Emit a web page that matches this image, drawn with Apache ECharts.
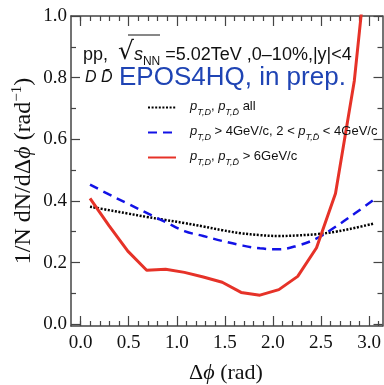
<!DOCTYPE html>
<html><head><meta charset="utf-8">
<script src="https://cdn.jsdelivr.net/npm/echarts@6/dist/echarts.min.js"></script>
<style>html,body{margin:0;padding:0;background:#fff}#c{width:384px;height:385px}</style>
</head><body><div id="c"></div>
<script>
// Δφ bin centres (π/16 bins)
const dphi = [0.098,0.295,0.491,0.687,0.884,1.080,1.276,1.473,1.669,1.865,2.062,2.258,2.454,2.651,2.847,3.043];
// pT,D , pT,Dbar all
const allPt = [0.381,0.370,0.359,0.348,0.338,0.328,0.317,0.305,0.295,0.289,0.286,0.288,0.292,0.300,0.312,0.326];
// pT,D > 4 GeV/c, 2 < pT,Dbar < 4 GeV/c
const midPt = [0.453,0.421,0.391,0.361,0.331,0.302,0.286,0.270,0.256,0.246,0.243,0.255,0.278,0.316,0.358,0.402];
// pT,D , pT,Dbar > 6 GeV/c
const highPt = [0.408,0.320,0.237,0.175,0.178,0.168,0.153,0.136,0.103,0.094,0.112,0.155,0.248,0.424,0.790,1.380];
const xTicks = [0,0.5,1.0,1.5,2.0,2.5,3.0];
const yTicks = [0,0.2,0.4,0.6,0.8,1.0];
const xMinorTicks = [0,0.1,0.2,0.3,0.4,0.6,0.7,0.8,0.9,1.1,1.2,1.3,1.4,1.6,1.7,1.8,1.9,2.1,2.2,2.3,2.4,2.6,2.7,2.8,2.9,3.1];
const yMinorTicks = [0.1,0.3,0.5,0.7,0.9];

const pair = (xs, ys) => xs.map((x, i) => [x, ys[i]]);
const AX = '#444';
const XMIN = -0.1, XMAX = 3.14, YMIN = -0.006, YMAX = 1.0;

function xAx(pos, major, labels) {
  return {
    type: 'value', min: XMIN, max: XMAX, position: pos,
    axisLine: { show: major, onZero: false, lineStyle: { color: AX, width: 1.5 } },
    axisTick: { show: true, inside: true, length: major ? 10 : 5, customValues: major ? xTicks : xMinorTicks, lineStyle: { color: AX, width: 1.2 } },
    axisLabel: { show: labels, customValues: xTicks, formatter: v => v.toFixed(1), fontFamily: 'Liberation Serif', fontSize: 19, color: '#111', margin: 8 },
    splitLine: { show: false }
  };
}
function yAx(pos, major, labels) {
  return {
    type: 'value', min: YMIN, max: YMAX, position: pos,
    axisLine: { show: major, onZero: false, lineStyle: { color: AX, width: 1.5 } },
    axisTick: { show: true, inside: true, length: major ? 9 : 5, customValues: major ? yTicks : yMinorTicks, lineStyle: { color: AX, width: 1.2 } },
    axisLabel: { show: labels, customValues: yTicks, formatter: v => v.toFixed(1), fontFamily: 'Liberation Serif', fontSize: 19, color: '#111', margin: 4 },
    splitLine: { show: false }
  };
}

const legRich = {
  n: { fontSize: 13, fontFamily: 'Liberation Sans', color: '#111', lineHeight: 15, verticalAlign: 'top' },
  p: { fontSize: 13, fontFamily: 'Liberation Sans', fontStyle: 'italic', color: '#111', lineHeight: 15, verticalAlign: 'top' },
  s: { fontSize: 9, fontFamily: 'Liberation Sans', fontStyle: 'italic', color: '#111', lineHeight: 9, padding: [8, 0, 0, 0], verticalAlign: 'top' }
};
const legNames = {
  all: '{p|p}{s|T,D}{n|, }{p|p}{s|T,D\u0304}{n| all}',
  mid: '{p|p}{s|T,D}{n| > 4GeV/c, 2 < }{p|p}{s|T,D\u0304}{n| < 4GeV/c}',
  high: '{p|p}{s|T,D}{n|, }{p|p}{s|T,D\u0304}{n| > 6GeV/c}'
};

const chart = echarts.init(document.getElementById('c'), null, { renderer: 'canvas' });
chart.setOption({
  animation: false,
  backgroundColor: '#fff',
  grid: { left: 71, right: 1.5, top: 16, bottom: 59 },
  xAxis: [xAx('bottom', true, true), xAx('bottom', false, false), xAx('top', true, false), xAx('top', false, false)],
  yAxis: [yAx('left', true, true), yAx('left', false, false), yAx('right', true, false), yAx('right', false, false)],
  legend: {
    orient: 'vertical', left: 142, top: 95, itemWidth: 28, itemHeight: 12, itemGap: 8,
    data: ['all', 'mid', 'high'],
    itemStyle: { opacity: 0 },
    formatter: name => legNames[name],
    textStyle: { rich: legRich, padding: [0, 0, 0, 9] }
  },
  series: [
    { name: 'all', type: 'line', data: pair(dphi, allPt), smooth: 0.4, symbol: 'none', clip: true,
      lineStyle: { color: '#000', width: 2.5, type: [2, 1.6] }, itemStyle: { color: '#000' } },
    { name: 'mid', type: 'line', data: pair(dphi, midPt), smooth: 0.4, symbol: 'none', clip: true,
      lineStyle: { color: '#1212e6', width: 2.5, type: [9, 6] }, itemStyle: { color: '#1212e6' } },
    { name: 'high', type: 'line', data: pair(dphi, highPt), smooth: false, symbol: 'none', clip: true,
      lineStyle: { color: '#e63228', width: 3 }, itemStyle: { color: '#e63228' } }
  ],
  graphic: [
    { type: 'text', left: 83, top: 40, style: {
        text: '{n|pp,  }{r|\u221A}{i|s}{s|NN}{n| =5.02TeV ,0\u201310%,|y|<4}',
        rich: {
          n: { fontSize: 18, fontFamily: 'Liberation Sans', fill: '#111', lineHeight: 20, padding: [6, 0, 0, 0], verticalAlign: 'top' },
          r: { fontSize: 25, fontFamily: 'DejaVu Sans', fill: '#111', lineHeight: 28, verticalAlign: 'top' },
          i: { fontSize: 18, fontFamily: 'Liberation Sans', fontStyle: 'italic', fill: '#111', lineHeight: 20, padding: [6, 0, 0, 0], verticalAlign: 'top' },
          s: { fontSize: 12, fontFamily: 'Liberation Sans', fill: '#111', lineHeight: 12, padding: [16, 0, 0, 0], verticalAlign: 'top' }
        } } },
    { type: 'line', shape: { x1: 128, y1: 35, x2: 160, y2: 35 }, style: { stroke: '#111', lineWidth: 1 } },
    { type: 'text', left: 85, top: 70, style: {
        text: 'D D\u0304', font: 'italic 16px "Liberation Sans"', fill: '#111' } },
    { type: 'text', left: 119, top: 65, style: {
        text: 'EPOS4HQ, in prep.', font: '26px "Liberation Sans"', fill: '#1f44b4' } },
    { type: 'text', x: 23, y: 171, rotation: Math.PI / 2, style: {
        text: '{n|1/N dN/d\u0394}{i|\u03D5}{n| (rad}{u|\u22121}{n|)}',
        align: 'center', verticalAlign: 'middle',
        rich: {
          n: { fontSize: 24, fontFamily: 'Liberation Serif', fill: '#111', lineHeight: 26, verticalAlign: 'bottom' },
          i: { fontSize: 24, fontFamily: 'Liberation Serif', fontStyle: 'italic', fill: '#111', lineHeight: 26, verticalAlign: 'bottom' },
          u: { fontSize: 15, fontFamily: 'Liberation Serif', fill: '#111', lineHeight: 15, verticalAlign: 'top' }
        } } },
    { type: 'text', x: 226, y: 373, style: {
        text: '{n|\u0394}{i|\u03D5}{n| (rad)}',
        align: 'center', verticalAlign: 'middle',
        rich: {
          n: { fontSize: 22, fontFamily: 'Liberation Serif', fill: '#111' },
          i: { fontSize: 22, fontFamily: 'Liberation Serif', fontStyle: 'italic', fill: '#111' }
        } } }
  ]
});
</script></body></html>
